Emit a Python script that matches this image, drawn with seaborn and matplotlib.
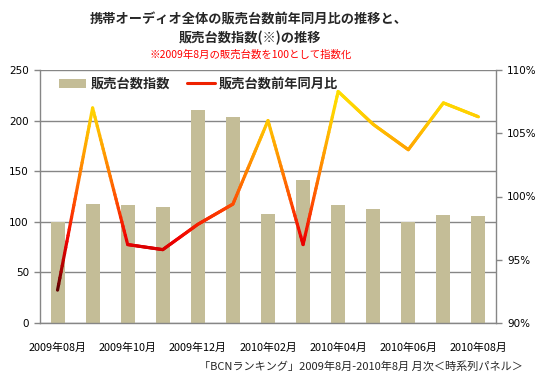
import numpy as np
import pandas as pd
import matplotlib
matplotlib.use('Agg')
import matplotlib.pyplot as plt
from matplotlib.collections import LineCollection
from matplotlib.colors import LinearSegmentedColormap, Normalize
from matplotlib.lines import Line2D
from matplotlib.patches import Patch
import seaborn as sns

# データ（2009年8月を100とした販売台数指数、前年同月比）
months = ['2009年08月', '2009年09月', '2009年10月', '2009年11月', '2009年12月',
          '2010年01月', '2010年02月', '2010年03月', '2010年04月', '2010年05月',
          '2010年06月', '2010年07月', '2010年08月']
sales_index = [100, 118, 117, 115, 210, 204, 108, 141, 117, 113, 100, 107, 106]
yoy_pct = [92.6, 107.0, 96.2, 95.8, 97.8, 99.4, 106.0, 96.2, 108.3, 105.7, 103.7, 107.4, 106.3]

left_ticks = [0, 50, 100, 150, 200, 250]
right_ticks = [90, 95, 100, 105, 110]

sns.set_theme(style='white')
plt.rcParams['font.family'] = ['Noto Sans CJK JP', 'DejaVu Sans']

BAR_COLOR = '#c4bd97'
GRID_COLOR = '#868686'

df = pd.DataFrame({'month': months, 'index': sales_index, 'yoy': yoy_pct})
df['pos'] = np.arange(len(df))

fig = plt.figure(figsize=(5.5, 3.82), dpi=100)
ax = fig.add_axes([40 / 550, 1 - 323 / 382, 456 / 550, 253 / 382])

sns.barplot(data=df, x='pos', y='index', color=BAR_COLOR, width=0.4,
            saturation=1, linewidth=0, edgecolor='none', ax=ax)
ax.set_xlim(-0.5, len(df) - 0.5)
ax.set_ylim(0, 250)
ax.set_yticks(left_ticks)
ax.set_yticklabels([str(t) for t in left_ticks], family='DejaVu Sans')
# 目盛線は棒の後ろ
ax.set_axisbelow(True)
ax.yaxis.grid(True, color=GRID_COLOR, lw=1)
ax.xaxis.grid(False)

# x軸：2か月おきのラベル、目盛りはカテゴリの境界
ax.set_xticks(df['pos'][::2])
ax.set_xticklabels(df['month'][::2])
ax.set_xticks(np.arange(-0.5, len(df) - 0.5, 2), minor=True)
ax.tick_params(axis='x', which='major', length=0, pad=14, labelsize=7.8, colors='black')
ax.tick_params(axis='x', which='minor', length=4, width=1, color=GRID_COLOR, direction='out')
ax.tick_params(axis='y', length=4, width=1, direction='out', pad=4, labelsize=7.5,
               colors='black')
ax.tick_params(axis='y', color=GRID_COLOR)
ax.set_xlabel('')
ax.set_ylabel('')
for s in ['left', 'bottom']:
    ax.spines[s].set_color(GRID_COLOR)
    ax.spines[s].set_linewidth(1)
ax.spines['top'].set_visible(False)
ax.spines['right'].set_visible(False)

# 右軸：前年同月比
ax2 = ax.twinx()
sns.lineplot(data=df, x='pos', y='yoy', ax=ax2, color='#ff2000', lw=2.3)
ax2.lines[0].set_visible(False)
ax2.set_ylim(90, 110)
ax2.set_yticks(right_ticks)
ax2.set_yticklabels([f'{t}%' for t in right_ticks], family='DejaVu Sans')
ax2.tick_params(axis='y', length=4, width=1, direction='out',
                pad=4, labelsize=7.5, colors='black')
ax2.tick_params(axis='y', color=GRID_COLOR)
ax2.grid(False)
ax2.set_ylabel('')
ax2.set_xlabel('')
for s in ['top', 'left', 'bottom']:
    ax2.spines[s].set_visible(False)
ax2.spines['right'].set_color(GRID_COLOR)
ax2.spines['right'].set_linewidth(1)

# 値に応じたグラデーション（濃赤→赤→橙→黄）
cmap = LinearSegmentedColormap.from_list('yoy', [
    (0.0, '#3a0000'), (0.15, '#b00000'), (0.28, '#f00000'),
    (0.45, '#ff4a00'), (0.7, '#ffa000'), (0.88, '#ffd000'), (1.0, '#ffe000')])
norm = Normalize(vmin=92, vmax=108.5)
segs, vals = [], []
xs = df['pos'].to_numpy(dtype=float)
ys = df['yoy'].to_numpy(dtype=float)
for i in range(len(xs) - 1):
    tt = np.linspace(0, 1, 31)
    sx = xs[i] + (xs[i + 1] - xs[i]) * tt
    sy = ys[i] + (ys[i + 1] - ys[i]) * tt
    for j in range(len(tt) - 1):
        segs.append([(sx[j], sy[j]), (sx[j + 1], sy[j + 1])])
        vals.append((sy[j] + sy[j + 1]) / 2)
lc = LineCollection(segs, cmap=cmap, norm=norm, linewidths=2.3, capstyle='round',
                    joinstyle='round', zorder=4)
lc.set_array(np.array(vals))
ax2.add_collection(lc)

# 凡例
handles = [Patch(facecolor=BAR_COLOR, edgecolor='none'),
           Line2D([0], [0], color='#ee2200', lw=2.2)]
leg = ax2.legend(handles, ['販売台数指数', '販売台数前年同月比'], ncol=2, frameon=False,
                 loc='upper left', bbox_to_anchor=(0.015, 1.02), handlelength=2.1,
                 handletextpad=0.3, columnspacing=1.3, prop={'weight': 'bold', 'size': 9.5})

# タイトル
fig.text(0.453, 1 - 20 / 382, '携帯オーディオ全体の販売台数前年同月比の推移と、',
         ha='center', va='center', fontsize=9.5, fontweight='bold')
fig.text(0.455, 1 - 38 / 382, '販売台数指数(※)の推移',
         ha='center', va='center', fontsize=9.5, fontweight='bold')
fig.text(0.455, 1 - 55 / 382, '※2009年8月の販売台数を100として指数化',
         ha='center', va='center', fontsize=7.5, color='#ff0000')
fig.text(523 / 550, 1 - 366 / 382, '「BCNランキング」2009年8月-2010年8月 月次＜時系列パネル＞',
         ha='right', va='center', fontsize=8)

fig.savefig('out.png', dpi=100)
